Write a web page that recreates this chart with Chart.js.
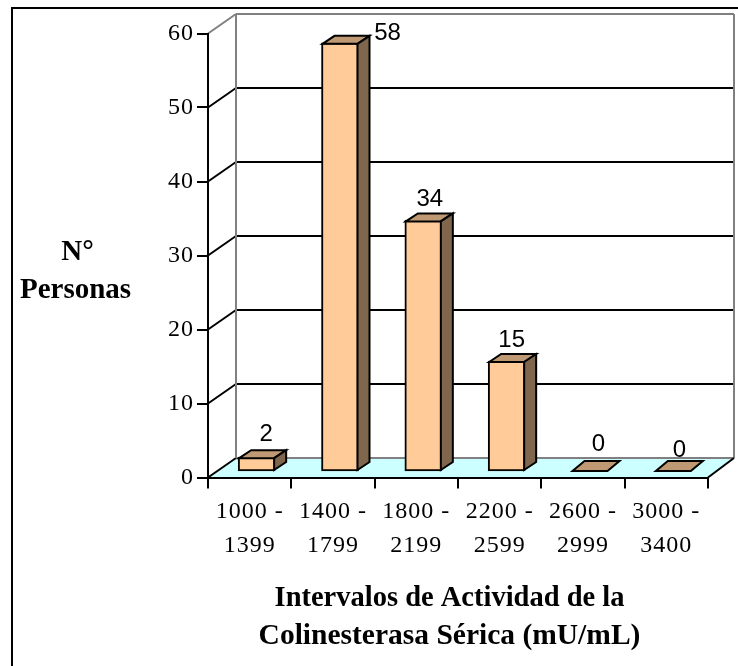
<!DOCTYPE html>
<html>
<head>
<meta charset="utf-8">
<title>Colinesterasa</title>
<script src="https://cdn.jsdelivr.net/npm/chart.js@4/dist/chart.umd.min.js"></script>
<style>
  html, body { margin: 0; padding: 0; background: #fff; }
  canvas { display: block; }
</style>
</head>
<body>
<canvas id="chart" width="738" height="666"></canvas>
<script>
// chart values
const categories = [['1000 -', '1399'], ['1400 -', '1799'], ['1800 -', '2199'], ['2200 -', '2599'], ['2600 -', '2999'], ['3000 -', '3400']];
const personas = [2, 58, 34, 15, 0, 0];
const yTitleLines = ['N°', 'Personas'];
const xTitleLines = ['Intervalos de Actividad de la', 'Colinesterasa Sérica (mU/mL)'];

// fake 3D settings
const wallDx = 28, wallDy = -19.5;    // back wall relative to the axes
const wallRightDx = 26;               // right end of the back wall
const barDx = 7, barDy = -5.5;        // bar front relative to the axes
const capDx = 12, capDy = -8;         // bar depth
const labelNudge = [[9.5, -23], [47.5, -9], [6.5, -21], [5, -21], [8.5, -28], [6, -22]];

function line(ctx, x1, y1, x2, y2, color, width) {
    ctx.beginPath();
    ctx.moveTo(x1, y1);
    ctx.lineTo(x2, y2);
    ctx.strokeStyle = color;
    ctx.lineWidth = width;
    ctx.stroke();
}

function poly(ctx, pts, fill) {
    ctx.beginPath();
    pts.forEach((p, i) => i ? ctx.lineTo(p[0], p[1]) : ctx.moveTo(p[0], p[1]));
    ctx.closePath();
    ctx.fillStyle = fill;
    ctx.fill();
    ctx.strokeStyle = '#000';
    ctx.lineWidth = 2;
    ctx.lineJoin = 'miter';
    ctx.stroke();
}

const walls = {
    id: 'walls',
    beforeDraw(chart) {
        const ctx = chart.ctx;
        const { left, right, bottom } = chart.chartArea;
        const y = chart.scales.y;
        ctx.letterSpacing = '1px';  // the tick labels are spaced out in the original
        ctx.save();

        // outer frame, open past the canvas edge
        ctx.strokeStyle = '#000';
        ctx.lineWidth = 2;
        ctx.strokeRect(12, 8, 740, 670);

        // floor
        ctx.beginPath();
        ctx.moveTo(left, bottom);
        ctx.lineTo(left + wallDx, bottom + wallDy);
        ctx.lineTo(right + wallRightDx, bottom + wallDy);
        ctx.lineTo(right, bottom);
        ctx.closePath();
        ctx.fillStyle = '#CCFFFF';
        ctx.fill();

        // grid lines on the wall and the diagonals on the side
        y.ticks.forEach(t => {
            const py = y.getPixelForValue(t.value);
            const edge = t.value === 0 || t.value === 60;
            if (!edge) {
                line(ctx, left + wallDx, py + wallDy, right + wallRightDx, py + wallDy, '#000', 2);
            }
            line(ctx, left, py, left + wallDx, py + wallDy, t.value === 60 ? '#808080' : '#000', 2);
        });
        const top = y.getPixelForValue(60) + wallDy;
        const base = y.getPixelForValue(0) + wallDy;
        line(ctx, left + wallDx, top, left + wallDx, base, '#808080', 2);
        line(ctx, left + wallDx, top, right + wallRightDx, top, '#808080', 2);
        line(ctx, right + wallRightDx, top, right + wallRightDx, base, '#808080', 2);
        line(ctx, left + wallDx, base, right + wallRightDx, base, '#808080', 2);
        line(ctx, right, bottom, right + wallRightDx, base, '#000', 2);
        ctx.restore();
    },
    beforeDatasetDraw(chart) {
        chart.ctx.save();
        chart.ctx.translate(barDx, barDy);
    },
    afterDatasetDraw(chart, args) {
        const ctx = chart.ctx;
        args.meta.data.forEach(bar => {
            const l = bar.x - bar.width / 2 + 1, r = bar.x + bar.width / 2 - 1;
            const t = bar.y + 1, b = bar.base - 1;
            if (b - t > 1) {
                poly(ctx, [[l, t], [l + capDx, t + capDy], [r + capDx, t + capDy], [r, t]], '#BF9973');
                poly(ctx, [[r, t], [r + capDx, t + capDy], [r + capDx, b + capDy], [r, b]], '#7F664C');
            } else {
                // zero height bar, only the flat top shows
                poly(ctx, [[l, b], [l + capDx, b + capDy - 2], [r + capDx, b + capDy - 2], [r, b]], '#BF9973');
            }
        });
        ctx.restore();
    },
    afterDatasetsDraw(chart) {
        const ctx = chart.ctx;
        ctx.save();
        ctx.letterSpacing = '0px';
        ctx.textAlign = 'center';
        ctx.textBaseline = 'middle';
        ctx.fillStyle = '#000';

        // value labels
        ctx.font = '24px "Liberation Sans"';
        chart.getDatasetMeta(0).data.forEach((bar, i) => {
            const n = labelNudge[i];
            ctx.fillText(personas[i], bar.x + barDx + n[0], bar.y + barDy + n[1]);
        });

        // axis titles, the y one is horizontal so it is not a scale title
        ctx.font = 'bold 29px "Liberation Serif"';
        ctx.fillText(yTitleLines[0], 77.5, 252.5);
        ctx.fillText(yTitleLines[1], 75.5, 290.5);
        ctx.font = 'bold 28.5px "Liberation Serif"';
        ctx.fillText(xTitleLines[0], 449.5, 598.5);
        ctx.font = 'bold 29.5px "Liberation Serif"';
        ctx.fillText(xTitleLines[1], 449.5, 636);
        ctx.restore();
    }
};

new Chart(document.getElementById('chart'), {
    type: 'bar',
    plugins: [walls],
    data: {
        labels: categories,
        datasets: [{
            label: 'N° Personas',
            data: personas,
            backgroundColor: '#FFCC99',
            borderColor: '#000',
            borderWidth: 2,
            borderSkipped: false,
            barThickness: 37
        }]
    },
    options: {
        responsive: false,
        animation: false,
        layout: { padding: { top: 33.5, right: 30, left: 0, bottom: 0 } },
        plugins: { legend: { display: false }, tooltip: { enabled: false } },
        scales: {
            x: {
                afterFit(scale) { scale.height = 188.5; },
                grid: { drawOnChartArea: false, tickLength: 11, color: '#000', lineWidth: 2 },
                border: { color: '#000', width: 2 },
                ticks: {
                    color: '#000',
                    maxRotation: 0,
                    autoSkip: false,
                    padding: 6,
                    font: { family: '"Liberation Serif"', size: 24, lineHeight: 34 / 24 }
                }
            },
            y: {
                min: 0,
                max: 60,
                afterFit(scale) { scale.width = 208; },
                grid: { drawOnChartArea: false, tickLength: 11, color: '#000', lineWidth: 2 },
                border: { color: '#000', width: 2 },
                ticks: {
                    color: '#000',
                    stepSize: 10,
                    padding: 3,
                    font: { family: '"Liberation Serif"', size: 24 }
                }
            }
        }
    }
});
</script>
</body>
</html>
